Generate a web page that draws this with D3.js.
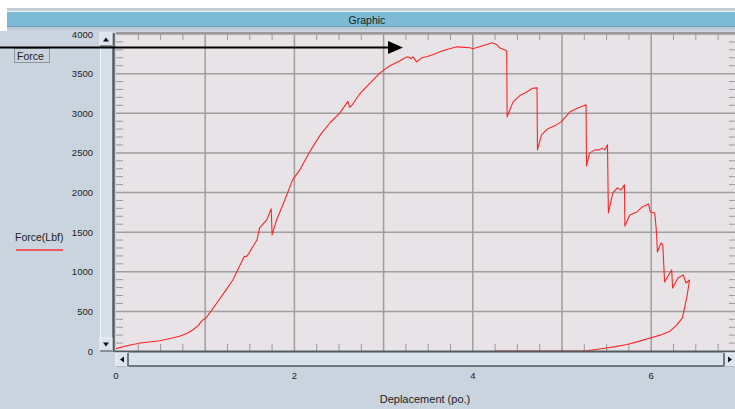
<!DOCTYPE html>
<html><head><meta charset="utf-8">
<script src="https://cdn.jsdelivr.net/npm/d3@7"></script>
<style>html,body{margin:0;padding:0;overflow:hidden;background:#fff}svg{display:block}text{font-family:"Liberation Sans",Arial,sans-serif}</style>
</head><body>
<svg id="c" width="735" height="409"></svg>
<script>
const title = "Graphic";
const xLabel = "Deplacement (po.)";
const seriesName = "Force(Lbf)";
const boxLabel = "Force";
const xTicks = [0, 2, 4, 6];
const yTicks = [0, 500, 1000, 1500, 2000, 2500, 3000, 3500, 4000];
const displacement = [0,0.1,0.27,0.49,0.62,0.72,0.80,0.86,0.92,0.97,1.01,1.07,1.13,1.22,1.31,1.42,1.44,1.46,1.48,1.53,1.58,1.61,1.69,1.74,1.75,1.80,1.87,1.98,2.06,2.17,2.29,2.40,2.51,2.60,2.62,2.65,2.73,2.85,2.96,3.07,3.18,3.24,3.27,3.31,3.33,3.37,3.43,3.48,3.55,3.66,3.82,3.97,4.00,4.11,4.22,4.27,4.30,4.38,4.385,4.45,4.53,4.60,4.67,4.72,4.725,4.77,4.84,4.92,4.99,5.09,5.16,5.27,5.275,5.31,5.37,5.42,5.45,5.48,5.51,5.52,5.57,5.62,5.66,5.70,5.705,5.76,5.84,5.90,5.97,5.99,6.04,6.06,6.07,6.11,6.13,6.15,6.23,6.24,6.30,6.36,6.39,6.43,6.40,6.35,6.28,6.21,6.10,5.98,5.85,5.73,5.60,5.50,5.38,5.25,4.25];
const force = [30,60,100,130,160,190,225,265,320,390,420,510,606,750,896,1150,1195,1190,1215,1310,1400,1553,1654,1795,1465,1654,1843,2159,2285,2510,2727,2880,3005,3150,3075,3110,3240,3384,3510,3600,3660,3700,3712,3690,3712,3649,3700,3712,3737,3788,3838,3826,3813,3851,3889,3864,3826,3788,2955,3140,3225,3265,3315,3320,2538,2727,2803,2841,2891,3018,3056,3106,2336,2500,2538,2538,2560,2538,2601,1742,1995,2058,2030,2096,1578,1717,1755,1818,1856,1755,1742,1490,1250,1364,1340,871,1023,795,922,960,858,896,682,417,320,250,200,160,118,82,55,38,18,0,0];

const svg = d3.select("#c");
const L = 116, T = 33, B = 351, R = 735;
const x = d3.scaleLinear().domain([0, 7]).range([L, L + 7 * 89.2]);
const y = d3.scaleLinear().domain([0, 4000]).range([B, T + 1]);

// backgrounds
svg.append("rect").attr("x",0).attr("y",0).attr("width",735).attr("height",409).attr("fill","#c9d4de");
svg.append("rect").attr("x",0).attr("y",0).attr("width",735).attr("height",8).attr("fill","#ffffff");
svg.append("rect").attr("x",0).attr("y",0).attr("width",7).attr("height",31).attr("fill","#ffffff");
svg.append("rect").attr("x",7).attr("y",8).attr("width",728).attr("height",3).attr("fill","#c3cdd6");
svg.append("rect").attr("x",7).attr("y",11).attr("width",728).attr("height",1).attr("fill","#eef4f8");
svg.append("rect").attr("x",7).attr("y",12).attr("width",728).attr("height",15).attr("fill","#7dbad6");
svg.append("rect").attr("x",7).attr("y",26).attr("width",728).attr("height",1).attr("fill","#5f9dbb");
svg.append("rect").attr("x",7).attr("y",27).attr("width",728).attr("height",3).attr("fill","#bcc8d2");
svg.append("text").attr("x",367).attr("y",23.5).attr("text-anchor","middle").attr("font-size",10.5).attr("fill","#1a1a1a").text(title);

// plot area
svg.append("rect").attr("x",L).attr("y",T).attr("width",R-L).attr("height",B-T).attr("fill","#e8e3e6");
const g = svg.append("g");
// grid
g.selectAll(".gx").data(d3.range(1,7)).join("line")
  .attr("x1",d=>x(d)).attr("x2",d=>x(d)).attr("y1",T).attr("y2",B)
  .attr("stroke","#9e9e9e").attr("stroke-width",1.5);
g.selectAll(".gy").data(yTicks.filter(v=>v>0)).join("line")
  .attr("x1",L).attr("x2",R).attr("y1",d=>y(d)).attr("y2",d=>y(d))
  .attr("stroke","#9e9e9e").attr("stroke-width",1.5);
// minor ticks
const minorX = d3.range(0.25, 7, 0.25).filter(v => Math.abs(v - Math.round(v)) > 1e-6);
g.selectAll(".tb").data(minorX).join("line")
  .attr("x1",d=>x(d)).attr("x2",d=>x(d)).attr("y1",B).attr("y2",B-7)
  .attr("stroke","#9a9a9a").attr("stroke-width",1);
g.selectAll(".tt").data(minorX).join("line")
  .attr("x1",d=>x(d)).attr("x2",d=>x(d)).attr("y1",T).attr("y2",T+7)
  .attr("stroke","#9a9a9a").attr("stroke-width",1);
const minorY = d3.range(100, 4000, 100).filter(v => v % 500 !== 0);
g.selectAll(".tl").data(minorY).join("line")
  .attr("x1",L).attr("x2",L+7).attr("y1",d=>y(d)).attr("y2",d=>y(d))
  .attr("stroke","#9a9a9a").attr("stroke-width",1);
g.selectAll(".tr").data(minorY).join("line")
  .attr("x1",R-6).attr("x2",R).attr("y1",d=>y(d)).attr("y2",d=>y(d))
  .attr("stroke","#9a9a9a").attr("stroke-width",1);
// top border
svg.append("line").attr("x1",L).attr("x2",R).attr("y1",T).attr("y2",T).attr("stroke","#9a9a9a").attr("stroke-width",2);

// data line
const pts = displacement.map((d,i)=>[d, force[i]]);
svg.append("path").datum(pts)
  .attr("d", d3.line().x(d=>x(d[0])).y(d=>y(d[1])))
  .attr("fill","none").attr("stroke","#ff2424").attr("stroke-width",1.1).attr("stroke-linejoin","round");

// axis lines
svg.append("line").attr("x1",L-1).attr("x2",R).attr("y1",B+0.5).attr("y2",B+0.5).attr("stroke","#555b60").attr("stroke-width",2);

// vertical scrollbar
svg.append("rect").attr("x",100).attr("y",T).attr("width",13).attr("height",B-T).attr("fill","#d5dfe8");
svg.append("line").attr("x1",100.5).attr("x2",100.5).attr("y1",T).attr("y2",B).attr("stroke","#eef3f7");
svg.append("line").attr("x1",113.5).attr("x2",113.5).attr("y1",T).attr("y2",B+1).attr("stroke","#555b60").attr("stroke-width",2.5);
function vbtn(y0, up){
  svg.append("rect").attr("x",100).attr("y",y0).attr("width",12).attr("height",13).attr("fill","#dbe4ec").attr("stroke","#f3f6f9");
  svg.append("line").attr("x1",100).attr("x2",112).attr("y1",y0+13).attr("y2",y0+13).attr("stroke","#6a7278").attr("stroke-width",1.5);
  const cx = 106, cy = y0 + 6.5;
  const p = up ? [[cx-3,cy+2],[cx+3,cy+2],[cx,cy-2]] : [[cx-3,cy-2],[cx+3,cy-2],[cx,cy+2]];
  svg.append("path").attr("d", d3.line()(p)+"Z").attr("fill","#111");
}
vbtn(T, true);
vbtn(B-13, false);

// horizontal scrollbar
svg.append("rect").attr("x",L).attr("y",353).attr("width",R-L).attr("height",13).attr("fill","#d9e3eb");
svg.append("line").attr("x1",L).attr("x2",R).attr("y1",366).attr("y2",366).attr("stroke","#4e555a").attr("stroke-width",1.5);
function hbtn(x0, left){
  svg.append("rect").attr("x",x0).attr("y",353).attr("width",12).attr("height",13).attr("fill","#dbe4ec").attr("stroke","#f3f6f9");
  svg.append("line").attr("x1",left?x0+12:x0).attr("x2",left?x0+12:x0).attr("y1",353).attr("y2",366).attr("stroke","#4e555a").attr("stroke-width",1.5);
  const cx = x0 + 6, cy = 359.5;
  const p = left ? [[cx+2,cy-3],[cx+2,cy+3],[cx-2,cy]] : [[cx-2,cy-3],[cx-2,cy+3],[cx+2,cy]];
  svg.append("path").attr("d", d3.line()(p)+"Z").attr("fill","#111");
}
hbtn(L, true);
hbtn(724, false);

// tick labels
svg.selectAll(".yl").data(yTicks).join("text")
  .attr("x",93).attr("y",d=>y(d)+3.5).attr("text-anchor","end").attr("font-size",9.5).attr("fill","#222").text(d=>d);
svg.selectAll(".xl").data(xTicks).join("text")
  .attr("x",d=>x(d)).attr("y",379).attr("text-anchor","middle").attr("font-size",9.5).attr("fill","#222").text(d=>d);
svg.append("text").attr("x",425).attr("y",403).attr("text-anchor","middle").attr("font-size",11).attr("fill","#222").text(xLabel);

// legend
svg.append("text").attr("x",15).attr("y",241).attr("font-size",10.5).attr("fill","#222").text(seriesName);
svg.append("line").attr("x1",16).attr("x2",63).attr("y1",250).attr("y2",250).attr("stroke","#ff3030").attr("stroke-width",1.5);

// Force box
svg.append("rect").attr("x",14.5).attr("y",48.5).attr("width",35).attr("height",14).attr("fill","none").attr("stroke","#555").attr("stroke-dasharray","1,1");
svg.append("text").attr("x",17).attr("y",59.5).attr("font-size",10.5).attr("fill","#222").text(boxLabel);

// arrow
svg.append("line").attr("x1",0).attr("x2",390).attr("y1",47.5).attr("y2",47.5).attr("stroke","#000").attr("stroke-width",2);
svg.append("path").attr("d", d3.line()([[388,41],[403,47.5],[388,54]])+"Z").attr("fill","#000");
</script>
</body></html>
